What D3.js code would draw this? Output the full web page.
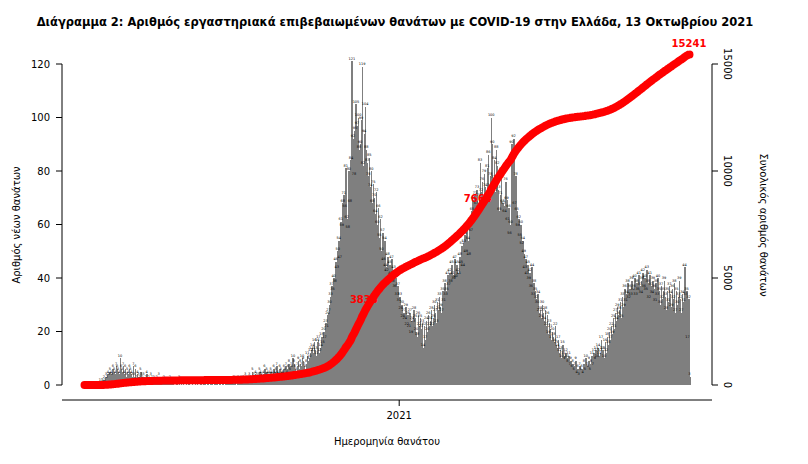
<!DOCTYPE html>
<html><head><meta charset="utf-8">
<script src="https://cdn.jsdelivr.net/npm/d3@7"></script>
<style>body{margin:0;background:#fff}svg{font-family:"DejaVu Sans",sans-serif}</style>
</head><body>
<script>
const startDate = "2020-02-26";
const dailyDeaths = [
0,0,0,0,0,0,0,0,0,0,0,0,0,0,0,
1,0,1,1,2,1,3,2,4,3,5,4,3,6,5,4,7,6,5,4,10,6,5,7,4,6,3,5,4,6,
5,4,3,7,3,6,2,4,3,2,5,3,2,3,1,2,4,1,2,1,3,2,1,2,1,1,2,1,3,1,
1,0,1,2,0,1,0,1,0,2,1,0,1,0,0,1,1,0,2,0,1,0,1,0,0,1,0,1,1,0,0,1,0,0,1,0,1,0,0,1,0,0,1,1,0,0,1,0,0,1,1,0,0,1,0,1,0,0,1,0,
0,1,0,0,1,0,1,0,1,1,0,1,2,1,0,1,2,1,1,2,1,2,1,3,2,1,2,3,2,1,
5,3,2,4,3,2,3,5,4,3,2,4,6,3,5,4,3,4,5,4,3,6,4,5,7,4,3,6,5,4,
4,6,5,7,4,6,8,5,7,6,10,8,6,5,7,9,6,8,7,10,9,7,6,8,11,9,10,12,13,14,
12,16,13,11,16,17,12,14,18,15,20,17,23,21,26,27,30,33,37,35,
40,38,46,43,50,54,47,61,59,68,71,66,81,62,58,
80,68,84,121,92,78,95,105,97,100,88,90,99,119,82,94,104,88,83,78,
85,74,80,68,75,70,64,72,60,66,55,62,50,57,46,54,44,42,48,39,45,41,47,38,43,36,40,33,37,31,
33,28,30,25,27,24,29,22,26,21,27,19,24,23,28,25,20,18,26,22,25,21,23,14,22,17,24,20,26,22,
24,28,22,25,30,27,23,31,28,33,29,27,35,31,38,33,35,41,37,42,38,45,41,39,47,
40,45,42,41,48,45,52,44,53,56,49,59,54,48,61,57,65,69,63,71,67,73,65,70,83,72,76,68,79,74,
70,81,86,74,78,100,90,77,84,72,88,82,73,65,71,80,68,67,64,76,69,61,66,56,60,
90,85,92,67,78,65,59,62,55,60,52,54,49,43,47,41,45,39,42,36,44,33,38,35,32,30,34,27,28,25,
30,27,24,28,22,26,19,23,21,17,20,18,16,22,15,14,17,12,13,10,15,11,9,12,10,8,11,7,9,6,
8,5,7,9,4,6,3,7,5,6,4,8,5,10,7,6,9,5,8,11,7,12,9,13,10,14,11,12,17,13,
13,10,16,12,18,15,20,17,22,19,25,21,27,24,29,26,28,31,25,33,29,36,31,34,38,32,36,33,39,35,
36,40,33,38,35,41,37,34,39,42,36,40,35,43,38,32,41,37,34,39,36,31,38,33,40,35,30,37,32,35,39,33,28,35,31,37,34,29,36,32,38,27,35,30,33,39,32,27,34,31,44,33,35,17,32,3
];
const leftTicks = [0,20,40,60,80,100,120];
const rightTicks = [0,5000,10000,15000];
const xTickLabels = ["2021"];
const lineLabels = [{date:"2020-12-05", text:"3838"},{date:"2021-03-27", text:"7664"}];
const finalLabel = "15241";
const title = "Διάγραμμα 2: Αριθμός εργαστηριακά επιβεβαιωμένων θανάτων με COVID-19 στην Ελλάδα, 13 Οκτωβρίου 2021";

const parse = d3.utcParse("%Y-%m-%d");
const t0 = parse(startDate);
const data = dailyDeaths.map((v,i)=>({date:d3.utcDay.offset(t0,i), v}));
let c=0; data.forEach(d=>{c+=d.v; d.cum=c;});

const W=808,H=464;
const svg=d3.select("body").append("svg").attr("width",W).attr("height",H);
const x=d3.scaleUtc().domain([t0, d3.utcDay.offset(t0,dailyDeaths.length)]).range([84,690]);
const y=d3.scaleLinear().domain([0,120]).range([385,64]);
const y2=d3.scaleLinear().domain([0,15000]).range([385,64]);
const bw=x(d3.utcDay.offset(t0,1))-x(t0);

svg.append("g").attr("shape-rendering","crispEdges").selectAll("rect").data(data).join("rect")
 .attr("x",d=>x(d.date)).attr("width",bw+0.6)
 .attr("y",d=>y(d.v)).attr("height",d=>385-y(d.v)).attr("fill","#7f7f7f");
svg.append("g").selectAll("text").data(data).join("text")
 .attr("x",d=>x(d.date)+bw/2).attr("y",d=>y(d.v)-1.5).attr("text-anchor","middle")
 .attr("font-size",3.5).attr("fill","#000").text(d=>d.v);

svg.append("path").datum(data).attr("fill","none").attr("stroke","#ff0000").attr("stroke-width",8)
 .attr("stroke-linecap","round")
 .attr("d",d3.line().x(d=>x(d.date)+bw/2).y(d=>y2(d.cum)));

lineLabels.forEach(l=>{const dd=data.find(d=>+d.date===+parse(l.date));
 svg.append("text").attr("x",x(dd.date)+6).attr("y",y2(dd.cum)+4).attr("text-anchor","end")
 .attr("font-size",10).attr("font-weight","bold").attr("fill","#ff0000").text(l.text);});
const last=data[data.length-1];
svg.append("text").attr("x",x(last.date)).attr("y",y2(last.cum)-8).attr("text-anchor","middle")
 .attr("font-size",10).attr("font-weight","bold").attr("fill","#ff0000").text(finalLabel);

const ax=svg.append("g").attr("font-size",10);
ax.append("line").attr("x1",62).attr("x2",62).attr("y1",y(0)).attr("y2",y(120)).attr("stroke","#000");
leftTicks.forEach(t=>{ax.append("line").attr("x1",56).attr("x2",62).attr("y1",y(t)).attr("y2",y(t)).attr("stroke","#000");
 ax.append("text").attr("x",50).attr("y",y(t)+3.5).attr("text-anchor","end").text(t);});
ax.append("line").attr("x1",712).attr("x2",712).attr("y1",y2(0)).attr("y2",y2(15000)).attr("stroke","#000");
rightTicks.forEach(t=>{ax.append("line").attr("x1",712).attr("x2",718).attr("y1",y2(t)).attr("y2",y2(t)).attr("stroke","#000");
 ax.append("text").attr("transform",`translate(724,${y2(t)}) rotate(90)`).attr("text-anchor","middle").text(t);});
ax.append("line").attr("x1",62).attr("x2",712).attr("y1",400).attr("y2",400).attr("stroke","#000");
xTickLabels.forEach(s=>{const tx=x(parse(s+"-01-01"));
 ax.append("line").attr("x1",tx).attr("x2",tx).attr("y1",400).attr("y2",406).attr("stroke","#000");
 ax.append("text").attr("x",tx).attr("y",419).attr("text-anchor","middle").text(s);});
svg.append("text").attr("x",387).attr("y",445).attr("text-anchor","middle").attr("font-size",10).text("Ημερομηνία θανάτου");
svg.append("text").attr("transform","translate(20,225) rotate(-90)").attr("text-anchor","middle").attr("font-size",10).text("Αριθμός νέων θανάτων");
svg.append("text").attr("transform","translate(760,225) rotate(90)").attr("text-anchor","middle").attr("font-size",10).text("Συνολικός αριθμός θανάτων");
svg.append("text").attr("x",395).attr("y",26).attr("text-anchor","middle").attr("font-size",11.5).attr("font-weight","bold").text(title);
</script>
</body></html>
